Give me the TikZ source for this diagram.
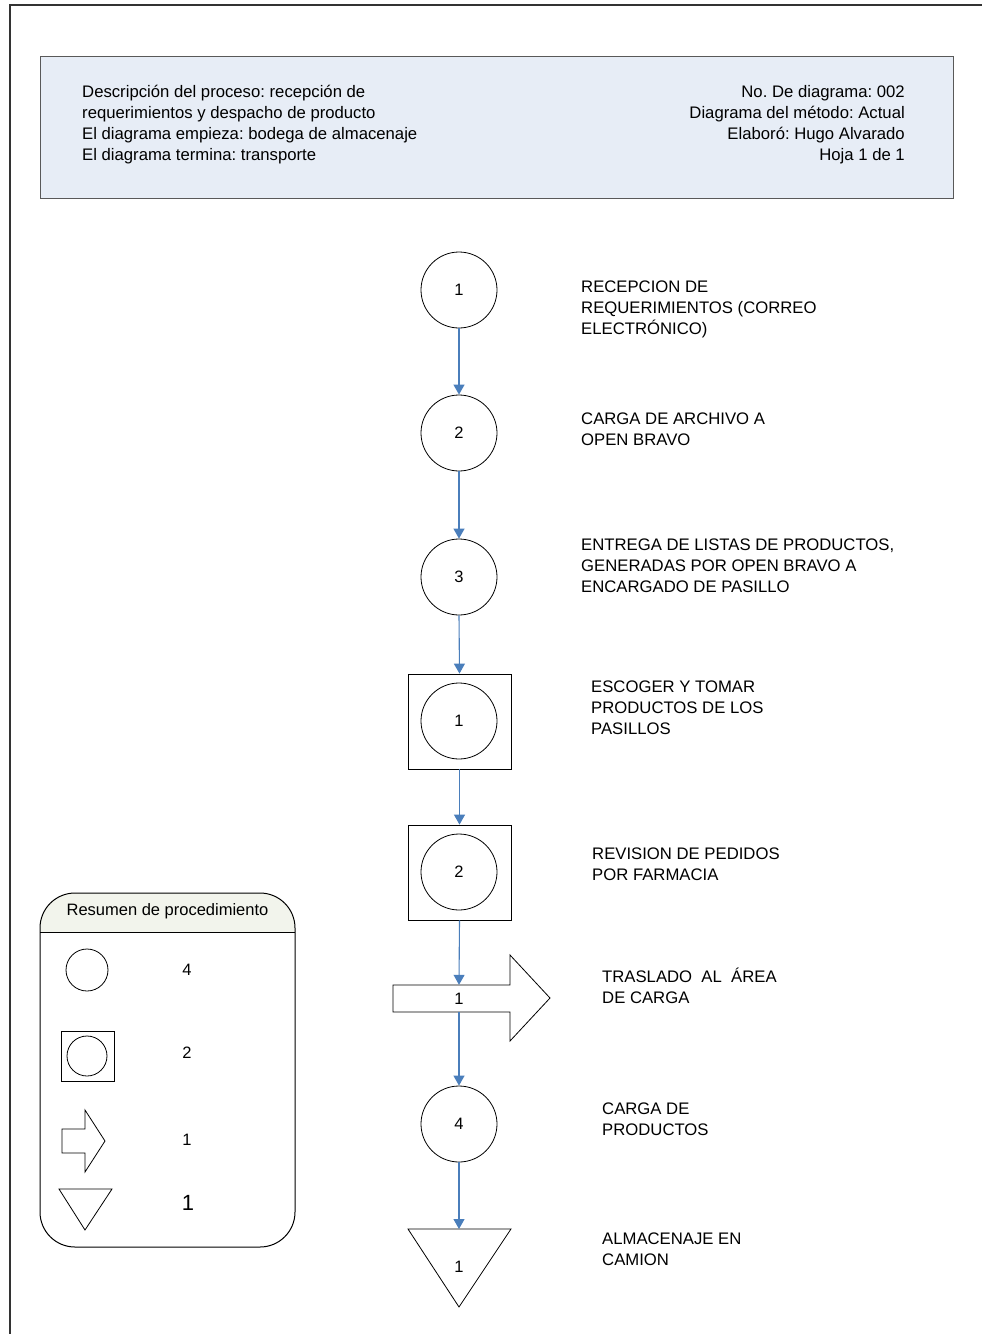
\documentclass[tikz,border=0pt]{standalone}
\usepackage{fontspec}
\setmainfont{Liberation Sans}
\frenchspacing
\usetikzlibrary{arrows.meta}
\definecolor{flowblue}{HTML}{4A7EBB}
\definecolor{headfill}{HTML}{E7EDF6}
\definecolor{sumfill}{HTML}{F2F4EC}
\begin{document}
\begin{tikzpicture}[x=1pt,y=-1pt,
  % multi-line text nodes: the base anchor sits on the last line
  txt/.style={font=\fontsize{16.7}{21}\selectfont, inner sep=0pt, align=left, anchor=base west},
  rtxt/.style={font=\fontsize{16.7}{21}\selectfont, inner sep=0pt, align=right, anchor=base east},
  num/.style={font=\fontsize{16.5}{19}\selectfont, inner sep=0pt},
  op/.style={circle, draw, minimum size=76pt, inner sep=0pt, line width=0.8pt, num},
  box/.style={rectangle, draw, minimum width=103pt, minimum height=95pt, inner sep=0pt, line width=0.8pt},
  flow/.style={draw=flowblue, line width=1.1pt, -{Triangle[length=10pt,width=11pt]}},
  outline/.style={draw, line width=0.8pt, line join=miter},
]
\useasboundingbox (0,0) rectangle (982,1334);

% page frame
\draw[black!80, line width=1.2pt] (10,1334) -- (10,5) -- (982,5);

% header panel
\node[draw=black!65, fill=headfill, line width=1pt, minimum width=913pt, minimum height=142pt, inner sep=0pt] (hdr) at (496.5,127) {};
\node[txt] (hdrl) at (82,160) {Descripción del proceso: recepción de\\requerimientos y despacho de producto\\El diagrama empieza: bodega de almacenaje\\El diagrama termina: transporte};
\node[rtxt] (hdrr) at (905,160) {No. De diagrama: 002\\Diagrama del método: Actual\\Elaboró: Hugo Alvarado\\Hoja 1 de 1};

% process steps
\node[op] (c1) at (459,290) {1};
\node[op] (c2) at (459,433) {2};
\node[op] (c3) at (459,577) {3};
\node[box] (s1) at (459.5,721.5) {};
\node[op] (s1c) at (459,721) {1};
\node[box] (s2) at (459.5,872.5) {};
\node[op] (s2c) at (459,872) {2};

% transport arrow
\draw[outline] (393,985) -- (510,985) -- (510,955) -- (550,998) -- (510,1041) -- (510,1012) -- (393,1012) -- cycle;
\node[num, minimum height=27pt, minimum width=1pt] (tr) at (459,998.5) {1};

\node[op] (c4) at (459,1124) {4};

% storage triangle
\draw[outline] (408,1229) -- (511,1229) -- (459,1307) -- cycle;
\coordinate (sttop) at (459,1229);
\node[num] (st) at (459,1267) {1};

% connectors
\draw[flow] (c1.south) -- (c2.north);
\draw[flow] (c2.south) -- (c3.north);
\draw[flow] (c3.south) -- (s1.north);
\draw[flow] (s1.south) -- (s2.north);
\draw[flow] (s2.south) -- (tr.north);
\draw[flow] (tr.south) -- (c4.north);
\draw[flow] (c4.south) -- (sttop);

% step descriptions
\node[txt] (l1) at (581,334.3) {RECEPCION DE\\REQUERIMIENTOS (CORREO\\ELECTRÓNICO)};
\node[txt] (l2) at (581,445.4) {CARGA DE ARCHIVO A\\OPEN BRAVO};
\node[txt] (l3) at (581,592.7) {ENTREGA DE LISTAS DE PRODUCTOS,\\GENERADAS POR OPEN BRAVO A\\ENCARGADO DE PASILLO};
\node[txt] (l4) at (591,734.3) {ESCOGER Y TOMAR\\PRODUCTOS DE LOS\\PASILLOS};
\node[txt] (l5) at (592,880.7) {REVISION DE PEDIDOS\\POR FARMACIA};
\node[txt] (l6) at (602,1003.3) {TRASLADO\ \ AL\ \ ÁREA\\DE CARGA};
\node[txt] (l7) at (602,1135.3) {CARGA DE\\PRODUCTOS};
\node[txt] (l8) at (602,1265.7) {ALMACENAJE EN\\CAMION};

% summary panel
\begin{scope}
  \clip[rounded corners=35pt] (40,893) rectangle (295,1247);
  \fill[sumfill] (40,893) rectangle (295,932);
\end{scope}
\draw[line width=1pt] (40,932) -- (295,932);
\draw[line width=1pt, rounded corners=35pt] (40,893) rectangle (295,1247);
\node[font=\fontsize{16.5}{21}\selectfont, inner sep=0pt] (sumt) at (167.5,911.5) {Resumen de procedimiento};

\node[circle, draw, minimum size=42pt, inner sep=0pt, line width=0.8pt] (k1) at (87,970) {};
\node[rectangle, draw, minimum width=53pt, minimum height=50pt, inner sep=0pt, line width=0.8pt] (k2) at (87.5,1056) {};
\node[circle, draw, minimum size=40pt, inner sep=0pt, line width=0.8pt] (k2c) at (87,1056) {};
\draw[outline] (62,1129) -- (85,1129) -- (85,1110) -- (105,1141) -- (85,1172) -- (85,1153) -- (62,1153) -- cycle;
\draw[outline] (59,1189) -- (112,1189) -- (85,1230) -- cycle;

\node[num] (n1) at (187,970) {4};
\node[num] (n2) at (187,1053) {2};
\node[num] (n3) at (187,1140) {1};
\node[font=\fontsize{22}{26}\selectfont, inner sep=0pt] (n4) at (188,1203) {1};
\end{tikzpicture}
\end{document}
